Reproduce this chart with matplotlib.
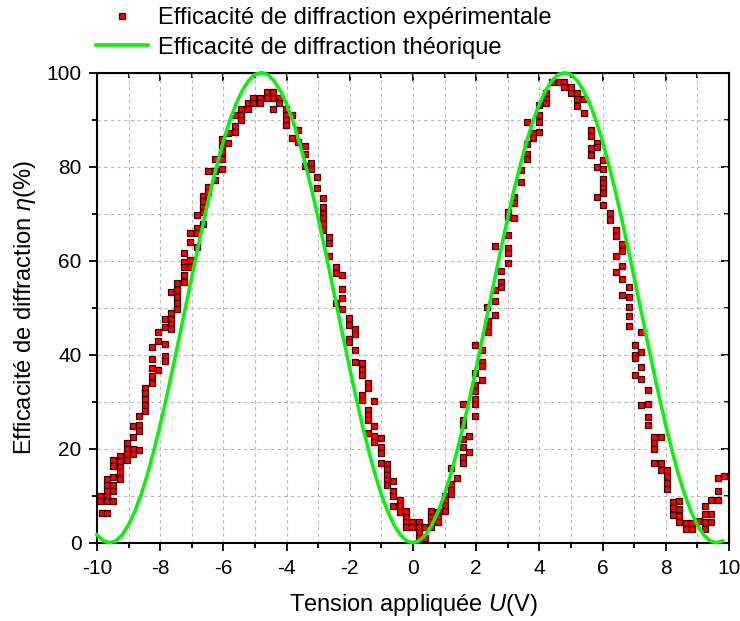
import numpy as np
import matplotlib.pyplot as plt
from matplotlib.ticker import MultipleLocator

plt.rcParams['font.family'] = ['Liberation Sans', 'DejaVu Sans']
plt.rcParams['mathtext.fontset'] = 'custom'
plt.rcParams['mathtext.it'] = 'Liberation Sans:italic'
plt.rcParams['mathtext.rm'] = 'Liberation Sans'
plt.rcParams['axes.unicode_minus'] = False

# données expérimentales : une colonne de points par valeur de tension
u_cols = [-9.91, -9.85, -9.67, -9.48, -9.27, -9.06, -8.87, -8.66, -8.48, -8.27,
          -8.06, -7.85, -7.66, -7.46, -7.24, -7.05, -6.84, -6.65, -6.47, -6.26,
          -6.05, -5.84, -5.63, -5.44, -5.23, -5.05, -4.84, -4.63, -4.44, -4.24,
          -4.03, -3.84, -3.63, -3.42, -3.23, -3.02, -2.84, -2.65, -2.44, -2.23,
          -2.02, -1.82, -1.62, -1.42, -1.22, -1.02, -0.82, -0.62, -0.42, -0.23,
          -0.02, 0.18, 0.39, 0.58, 0.79, 1.0, 1.19, 1.39, 1.58, 1.79,
          1.98, 2.19, 2.34, 2.39, 2.6, 2.79, 3.0, 3.2, 3.41, 3.6,
          3.8, 4.0, 4.21, 4.4, 4.61, 4.79, 5.0, 5.18, 5.42, 5.62,
          5.82, 6.02, 6.23, 6.42, 6.62, 6.83, 7.03, 7.21, 7.23, 7.43,
          7.64, 7.84, 8.04, 8.23, 8.42, 8.63, 8.84, 9.05, 9.24, 9.44,
          9.64, 9.84]
eta_cols = [
    [9.9, 8.8], [6.4], [13.5, 12.3, 11.1, 9.9, 8.8, 6.4],
    [17.6, 16.4, 13.9, 12.3, 11.1, 8.8], [18.5, 17.4, 16.2, 15.0, 13.6],
    [21.3, 20.0, 18.8, 17.6], [24.8, 22.6, 20.0, 18.8], [27.0, 25.0, 23.8, 19.8],
    [33.0, 31.8, 30.5, 29.3, 28.1], [41.7, 39.1, 37.2, 35.5, 33.9],
    [44.9, 42.9, 36.7], [47.7, 46.0, 42.3, 39.7, 38.7],
    [53.4, 48.9, 47.7, 46.5, 45.4], [55.2, 53.8, 52.2, 50.9, 49.8],
    [61.7, 59.8, 58.6, 57.0, 55.4], [65.8, 64.0, 60.1, 58.6],
    [69.7, 66.9, 65.8, 63.0], [73.8, 72.6, 71.5, 70.4, 67.9],
    [79.1, 75.6, 74.7], [81.6, 79.1, 77.2], [85.8, 84.4, 83.1, 81.6, 79.4],
    [87.2, 85.1], [91.0, 88.7, 87.4], [92.2, 91.0, 89.9], [93.5, 92.2],
    [94.7, 93.5], [94.7, 93.5], [95.8, 94.7], [95.8, 94.7, 92.3], [94.7, 93.5],
    [92.2, 91.0, 89.9, 88.9], [91.0, 86.2], [87.8, 85.3], [84.3, 82.8, 80.1],
    [80.7, 79.6], [77.9, 75.4], [73.3, 71.5, 69.9, 69.0, 67.9, 66.5],
    [65.1, 63.7, 60.9], [58.6, 57.3, 50.9], [57.0, 53.9, 52.0, 49.8],
    [47.9, 46.3, 43.3, 42.8], [45.4, 44.5, 41.1, 38.5],
    [38.3, 36.7, 35.7, 31.4, 30.4], [33.9, 33.0, 28.2, 27.2, 26.1, 23.4],
    [30.1, 24.8, 22.7, 21.5], [22.3, 20.4, 19.1, 17.0],
    [16.7, 15.6, 14.4, 13.3, 12.3], [13.1, 11.0, 9.9, 7.9], [9.1, 7.8, 6.6],
    [6.7, 5.5, 4.5, 3.4], [4.5, 3.4], [4.5, 3.4, 2.3, 1.1], [3.4, 1.1],
    [6.7, 5.5, 4.5, 3.4], [6.6, 5.5, 4.5], [9.9, 9.1, 7.8, 6.7],
    [16.0, 12.6, 11.3, 10.3], [13.7], [29.6, 26.1, 25.0, 22.0, 20.4, 18.3, 17.0],
    [22.7, 19.4], [42.1, 36.2, 33.5, 32.3, 30.5, 29.5, 27.0],
    [41.0, 38.5, 37.6, 34.6], [50.2], [47.2, 46.1, 44.9],
    [63.1, 53.8, 51.4, 48.4], [57.9, 55.5, 54.5],
    [70.4, 69.2, 65.5, 62.6, 61.6, 59.6], [73.6, 72.3, 69.0], [79.3, 76.8],
    [89.6, 84.8, 82.8, 81.6], [87.2, 86.0], [93.1, 91.0, 89.6, 87.4],
    [95.6, 94.5, 93.5], [98.1], [98.1], [98.1, 96.9], [96.9, 95.6],
    [95.6, 94.3, 92.9], [94.3, 91.5], [87.9, 86.5, 83.9, 82.5],
    [85.1, 84.1, 79.9, 73.6], [81.4, 79.6, 77.3, 76.5, 75.5, 74.3, 71.8],
    [70.1, 68.7], [66.5, 65.2, 60.9, 57.7], [63.5, 62.1, 58.9, 56.2, 52.8],
    [54.3, 52.3, 50.2, 48.2, 46.2], [42.1, 39.9, 39.4, 35.7], [44.8],
    [40.6, 37.4, 34.8, 29.3], [32.6, 29.6, 26.7, 25.1], [22.6, 21.3, 19.9, 17.0],
    [22.6, 17.0, 15.5], [15.5, 14.3, 12.8, 11.4], [8.7, 7.3, 6.0],
    [8.9, 7.2, 5.7, 4.5], [4.3, 2.9], [4.3, 2.9], [4.6], [7.8, 6.2, 4.5, 3.0],
    [9.2, 6.2, 4.5], [13.8, 11.0, 9.2], [14.2],
]

# courbe théorique lue tous les 0.2 V de -10 à 9.8 V
u_theo = np.round(np.arange(-10, 9.81, 0.2), 2)
eta_theo = [1.7, 0.4, 0.0, 0.4, 1.7, 3.8, 6.7, 10.3, 14.6, 19.6,
            25.0, 30.9, 37.1, 43.5, 50.0, 56.5, 62.9, 69.1, 75.0, 80.4,
            85.4, 89.7, 93.3, 96.2, 98.3, 99.6, 100.0, 99.6, 98.3, 96.2,
            93.3, 89.7, 85.4, 80.4, 75.0, 69.1, 62.9, 56.5, 50.0, 43.5,
            37.1, 30.9, 25.0, 19.6, 14.6, 10.3, 6.7, 3.8, 1.7, 0.4,
            0.0, 0.4, 1.7, 3.8, 6.7, 10.3, 14.6, 19.6, 25.0, 30.9,
            37.1, 43.5, 50.0, 56.5, 62.9, 69.1, 75.0, 80.4, 85.4, 89.7,
            93.3, 96.2, 98.3, 99.6, 100.0, 99.6, 98.3, 96.2, 93.3, 89.7,
            85.4, 80.4, 75.0, 69.1, 62.9, 56.5, 50.0, 43.5, 37.1, 30.9,
            25.0, 19.6, 14.6, 10.3, 6.7, 3.8, 1.7, 0.4, 0.0, 0.4]

u_exp = np.concatenate([[u] * len(e) for u, e in zip(u_cols, eta_cols)])
eta_exp = np.concatenate(eta_cols)

fig = plt.figure(figsize=(7.4, 6.21), dpi=100)
ax = fig.add_axes([0.131, 0.126, 0.854, 0.757])

ax.plot(u_exp, eta_exp, 's', ms=5, mfc='red', mec='#3a0000', mew=0.9,
        ls='none', label='Efficacité de diffraction expérimentale', zorder=3)
ax.plot(u_theo, eta_theo, '-', color='#11ee11', lw=2.6,
        label='Efficacité de diffraction théorique', zorder=4, clip_on=False)

ax.set_xlim(-10, 10)
ax.set_ylim(0, 100)
ax.xaxis.set_major_locator(MultipleLocator(2))
ax.xaxis.set_minor_locator(MultipleLocator(1))
ax.yaxis.set_major_locator(MultipleLocator(20))
ax.yaxis.set_minor_locator(MultipleLocator(10))
ax.grid(which='both', color='#b8b8b8', ls=(0, (3, 3)), lw=0.8)
ax.set_axisbelow(True)

for s in ax.spines.values():
    s.set_linewidth(1.5)
ax.tick_params(which='both', labelsize=15, width=1.3, direction='out')
ax.tick_params(which='major', length=6)
ax.tick_params(which='minor', length=3.5)
ax.tick_params(axis='x', which='major', pad=6)
ax.tick_params(axis='y', which='major', pad=5)

# graduations intérieures en haut et à droite
ax_top = ax.secondary_xaxis('top')
ax_top.xaxis.set_major_locator(MultipleLocator(2))
ax_top.xaxis.set_minor_locator(MultipleLocator(1))
ax_top.tick_params(which='both', direction='in', labeltop=False, width=1.3)
ax_top.tick_params(which='major', length=6)
ax_top.tick_params(which='minor', length=3.5)
ax_right = ax.secondary_yaxis('right')
ax_right.yaxis.set_major_locator(MultipleLocator(20))
ax_right.yaxis.set_minor_locator(MultipleLocator(10))
ax_right.tick_params(which='both', direction='in', labelright=False, width=1.3)
ax_right.tick_params(which='major', length=6)
ax_right.tick_params(which='minor', length=3.5)

ax.set_xlabel('Tension appliquée $U$(V)', fontsize=17, labelpad=10)
ax.set_ylabel('Efficacité de diffraction $\\eta$(%)', fontsize=17, labelpad=6)

fig.legend(loc='upper left', bbox_to_anchor=(0.13, 0.988), frameon=False,
           fontsize=17, handlelength=2.2, handletextpad=0.42, labelspacing=0.3,
           borderpad=0, borderaxespad=0)

fig.savefig('out.png', dpi=100)
